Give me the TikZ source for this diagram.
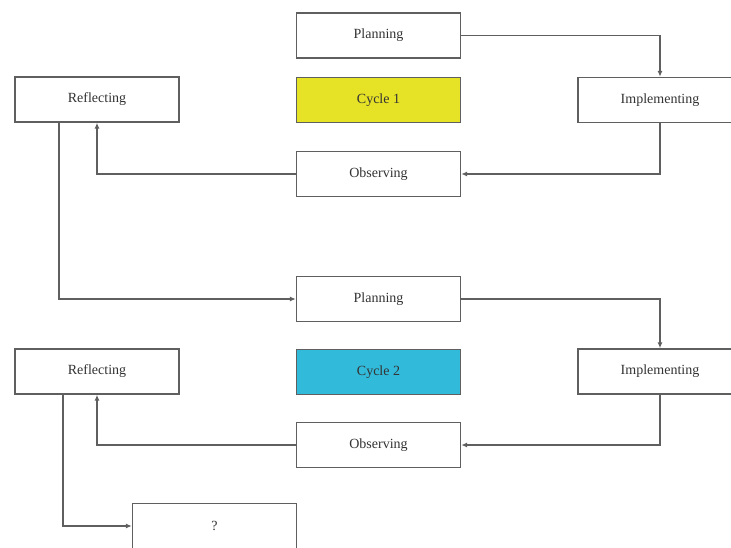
\documentclass[tikz,border=0pt]{standalone}
\usepackage{fontspec}
\setmainfont{Liberation Serif}
\usetikzlibrary{arrows.meta}

\definecolor{cycleyellow}{RGB}{230,226,38}
\definecolor{cyclecyan}{RGB}{50,186,218}
\definecolor{linegray}{RGB}{95,95,95}

\begin{document}
\begin{tikzpicture}[x=1pt,y=-1pt,
    stage/.style={draw=linegray,line width=1.4pt,fill=white,minimum width=164pt,
      minimum height=45pt,inner sep=0pt,text=black!80,font=\fontsize{14}{16}\selectfont},
    link/.style={draw=linegray,line width=1.3pt,-{Latex[length=6pt,width=5pt]}}]

    % fix the page to the size of the reference
    \useasboundingbox (0,0) rectangle (731,548);

    % cycle 1
    \node [stage] (plan1) at (378.5,35.5) {Planning};
    \node [stage,fill=cycleyellow] (cyc1) at (378.5,100) {Cycle 1};
    \node [stage] (obs1) at (378.5,174) {Observing};
    \node [stage] (refl1) at (97,99.5) {Reflecting};
    \node [stage] (impl1) at (660,100) {Implementing};

    % cycle 2
    \node [stage] (plan2) at (378.5,299) {Planning};
    \node [stage,fill=cyclecyan] (cyc2) at (378.5,372) {Cycle 2};
    \node [stage] (obs2) at (378.5,445) {Observing};
    \node [stage] (refl2) at (97,371.5) {Reflecting};
    \node [stage] (impl2) at (660,371.5) {Implementing};

    % next step
    \node [stage] (next) at (214.5,526) {?};

    % arrows round each cycle
    \foreach \c in {1,2}{
      \draw [link] (plan\c.east) -| (impl\c.north);
      \draw [link] (impl\c.south) |- (obs\c.east);
      \draw [link] (obs\c.west) -| (refl\c.south);
    }

    % from one cycle to the next
    \draw [link] ([xshift=-38pt]refl1.south) |- (plan2.west);
    \draw [link] ([xshift=-34pt]refl2.south) |- (next.west);

\end{tikzpicture}
\end{document}
